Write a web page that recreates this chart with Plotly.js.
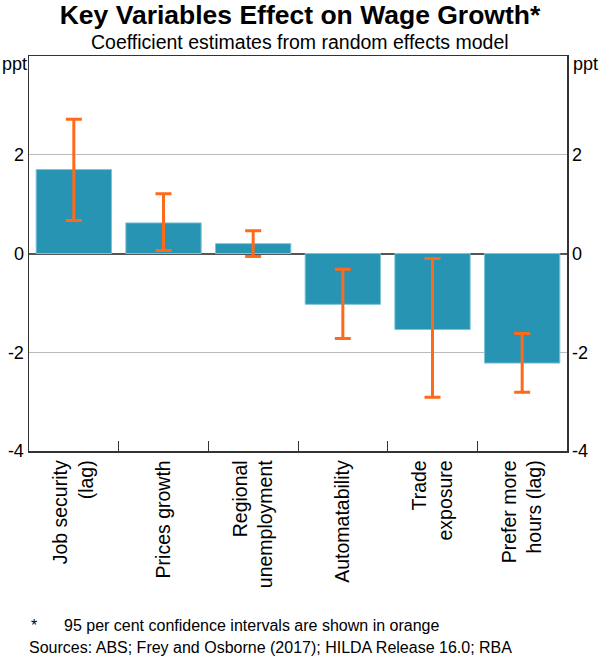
<!DOCTYPE html>
<html><head><meta charset="utf-8">
<script src="https://cdn.plot.ly/plotly-3.0.1.min.js"></script>
<style>body{margin:0;background:#fff}#c{width:600px;height:657px}</style>
</head><body><div id="c"></div>
<script>
var categories = ["Job security<br>(lag)", "Prices growth", "Regional<br>unemployment", "Automatability", "Trade<br>exposure", "Prefer more<br>hours (lag)"];
var coefficients = [1.70, 0.62, 0.20, -1.03, -1.54, -2.22];
var ciUpper = [2.72, 1.21, 0.46, -0.32, -0.10, -1.62];
var ciLower = [0.67, 0.06, -0.06, -1.72, -2.91, -2.81];
var yTicks = [-4, -2, 0, 2];
var yTickText = ["-4", "-2", "0", "2"];

var plus = coefficients.map(function(v, i){ return ciUpper[i] - v; });
var minus = coefficients.map(function(v, i){ return v - ciLower[i]; });
var font = "Liberation Sans, Arial, sans-serif";

var traces = [{
  type: "bar", x: categories, y: coefficients, width: 0.84,
  marker: {color: "#2894B4", line: {color: "#7cc3d8", width: 1}},
  error_y: {type: "data", symmetric: false, array: plus, arrayminus: minus,
            color: "#FF6A1A", thickness: 3, width: 8},
  hoverinfo: "skip", showlegend: false
}, {
  type: "scatter", mode: "markers", x: categories, y: coefficients, yaxis: "y2",
  marker: {opacity: 0}, hoverinfo: "skip", showlegend: false
}];

var yax = {
  range: [-4, 4], tickvals: yTicks, ticktext: yTickText, ticks: "",
  showgrid: true, gridcolor: "#bbbbbb", gridwidth: 1,
  zeroline: true, zerolinecolor: "#555555", zerolinewidth: 2,
  showline: true, linecolor: "#333333", linewidth: 1.5,
  tickfont: {family: font, size: 18, color: "#000"}, fixedrange: true
};
var y2 = JSON.parse(JSON.stringify(yax));
y2.overlaying = "y"; y2.side = "right"; y2.showgrid = false; y2.zeroline = false;

function py(Y){ return (451 - Y) / 395; }
function px(X){ return (X - 29) / 538; }

var layout = {
  width: 600, height: 657,
  margin: {l: 29, r: 33, t: 56, b: 206},
  paper_bgcolor: "#fff", plot_bgcolor: "#fff",
  title: {text: "<b>Key Variables Effect on Wage Growth*</b>", font: {family: font, size: 26.5, color: "#000"},
          x: 0.5, xanchor: "center", y: 1 - 15/657, yanchor: "middle", yref: "container"},
  xaxis: {
    tickson: "boundaries", ticks: "inside", ticklen: 10, tickcolor: "#333", tickwidth: 1,
    tickangle: -90, tickfont: {family: font, size: 19.5, color: "#000"},
    showline: true, mirror: true, linecolor: "#333333", linewidth: 1.5,
    showgrid: false, fixedrange: true
  },
  yaxis: yax, yaxis2: y2,
  annotations: [
    {text: "Coefficient estimates from random effects model", xref: "paper", yref: "paper",
     x: px(300), y: py(42), xanchor: "center", yanchor: "middle", showarrow: false,
     font: {family: font, size: 19.5, color: "#000"}},
    {text: "ppt", xref: "paper", yref: "paper", x: px(0), y: py(64), xanchor: "left", yanchor: "middle",
     showarrow: false, font: {family: font, size: 18, color: "#000"}},
    {text: "ppt", xref: "paper", yref: "paper", x: px(571), y: py(64), xanchor: "left", yanchor: "middle",
     showarrow: false, font: {family: font, size: 18, color: "#000"}},
    {text: "*", xref: "paper", yref: "paper", x: px(29), y: py(625),
     xanchor: "left", yanchor: "middle", showarrow: false, font: {family: font, size: 16, color: "#000"}},
    {text: "95 per cent confidence intervals are shown in orange", xref: "paper", yref: "paper",
     x: px(62), y: py(625), xanchor: "left", yanchor: "middle", showarrow: false,
     font: {family: font, size: 16, color: "#000"}},
    {text: "Sources: ABS; Frey and Osborne (2017); HILDA Release 16.0; RBA", xref: "paper", yref: "paper",
     x: px(27), y: py(647), xanchor: "left", yanchor: "middle", showarrow: false,
     font: {family: font, size: 16, color: "#000"}}
  ]
};
Plotly.newPlot("c", traces, layout, {displayModeBar: false, staticPlot: true});
</script></body></html>
